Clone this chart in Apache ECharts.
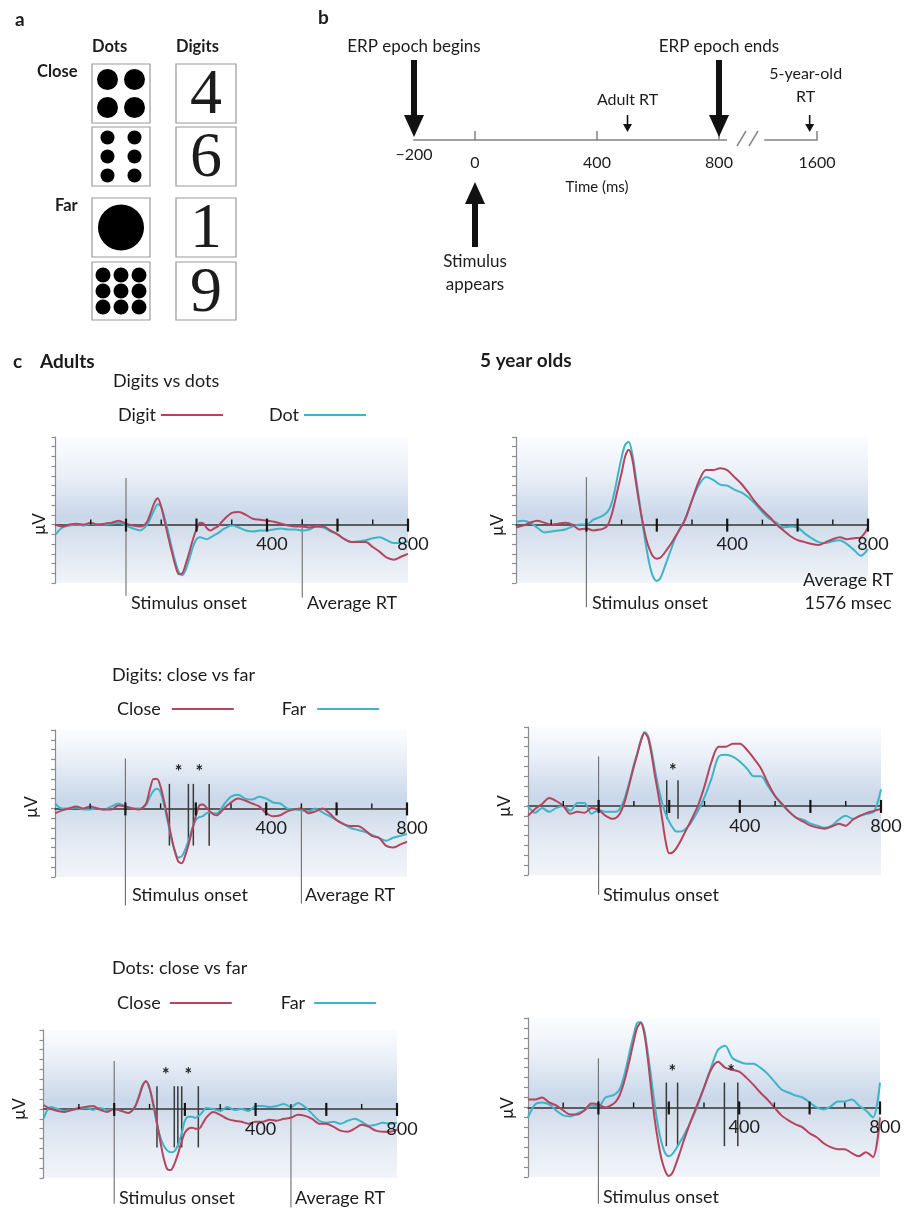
<!DOCTYPE html>
<html><head><meta charset="utf-8">
<script src="https://cdn.jsdelivr.net/npm/echarts@6/dist/echarts.min.js"></script>
<style>html,body{margin:0;padding:0;background:#fff}#c{width:914px;height:1209px}</style>
</head><body><div id="c"></div><script>
// ---------------- DATA ----------------
const times = [-200,-180,-160,-140,-120,-100,-80,-60,-40,-20,0,20,40,
  50,60,70,80,90,100,110,120,130,140,150,160,170,180,190,200,210,220,230,240,250,
  260,280,300,320,340,360,380,400,420,440,460,480,500,520,540,560,580,600,620,640,660,680,700,720,740,760,780,800];

// Adults, digits vs dots
const adultDigit = [0,-0.2,0.0,0.1,0.0,0.2,0.0,0.1,0.2,0.4,0.1,-0.1,-0.2,
  -0.1,0.3,1.2,2.2,2.7,1.8,0.3,-1.3,-2.8,-4.2,-5.1,-5.0,-4.0,-2.8,-1.5,-0.5,0.2,0.1,-0.4,-0.6,-0.4,
  -0.2,0.6,1.2,1.3,1.0,0.6,0.5,0.4,0.3,0.1,-0.1,-0.2,-0.2,-0.3,-0.2,-0.2,-0.6,-1.0,-1.5,-1.8,-1.8,-1.8,-2.3,-2.8,-3.4,-3.6,-3.3,-3.0];
const adultDot = [-1.0,-0.3,-0.1,0.0,-0.1,0.1,0.0,0.0,0.1,0.2,-0.1,-0.4,-0.6,
  -0.4,0.0,0.7,1.5,2.1,1.8,0.6,-0.8,-2.4,-3.8,-4.9,-5.2,-4.6,-3.5,-2.3,-1.5,-1.3,-1.4,-1.5,-1.3,-1.1,
  -0.9,-0.4,-0.1,-0.3,-0.6,-0.7,-0.6,-0.6,-0.5,-0.4,-0.5,-0.5,-0.6,-0.5,-0.2,-0.3,-0.7,-1.0,-1.5,-1.8,-1.7,-1.6,-1.4,-1.3,-1.6,-1.9,-1.9,-1.7];
// 5 year olds, digits vs dots
const childDigit = [-0.3,-0.1,0.2,0.4,0.2,0.0,0.1,0.2,0.0,-0.5,-0.4,-0.6,-0.5,
  -0.4,-0.1,0.8,2.2,3.8,5.3,7.0,7.7,6.8,4.5,2.2,0.2,-1.5,-2.6,-3.3,-3.5,-3.4,-3.0,-2.5,-2.0,-1.4,
  -0.8,0.5,2.5,4.5,5.6,5.6,5.8,5.6,4.9,4.2,3.3,2.3,1.5,0.8,0.0,-0.6,-1.2,-1.6,-1.8,-2.0,-2.1,-1.8,-1.5,-1.3,-1.5,-1.4,-1.3,-0.3];
const childDot = [0.3,0.4,0.2,-0.3,-0.8,-0.7,-0.6,-0.5,-0.2,0.0,0.0,0.5,0.8,
  1.0,1.3,2.0,3.4,5.2,6.9,8.2,8.5,7.3,5.0,2.5,0.0,-2.3,-4.2,-5.4,-5.8,-5.5,-4.6,-3.6,-2.6,-1.6,
  -0.8,0.5,2.5,4.1,4.9,4.6,4.1,4.0,3.6,3.3,2.8,2.1,1.3,0.6,0.2,-0.3,-0.2,-0.3,-0.9,-1.4,-1.8,-1.9,-1.7,-1.6,-2.0,-2.6,-3.2,-2.5];
// Adults, digits close vs far
const adultDigitClose = [-0.5,-0.2,0.0,0.2,0.0,0.2,0.0,-0.1,-0.1,0.3,0.2,0.0,-0.1,
  0.1,0.6,2.0,3.0,3.0,2.2,0.7,-1.0,-2.8,-4.3,-5.4,-5.6,-4.8,-3.6,-2.2,-0.8,0.3,0.4,0.1,-0.3,-0.6,
  -0.7,0.0,0.6,1.0,0.8,0.5,0.2,-0.5,-0.8,-0.7,-0.3,-0.1,0.0,-0.5,-0.3,0.0,-0.5,-1.2,-1.6,-1.8,-1.8,-2.2,-2.8,-3.0,-3.8,-4.0,-3.7,-3.4];
const adultDigitFar = [0.5,0.0,0.0,0.1,-0.1,-0.1,0.0,-0.1,0.2,0.5,0.2,0.0,0.0,
  0.1,0.4,1.2,1.8,2.0,1.6,0.3,-1.3,-3.0,-4.3,-5.0,-4.9,-4.2,-3.2,-2.0,-1.2,-0.9,-0.8,-0.5,-0.4,-0.5,
  -0.5,0.4,1.2,1.4,1.0,0.9,1.2,1.0,0.6,0.5,0.0,-0.1,-0.2,-0.3,0.0,-0.4,-0.8,-1.2,-1.6,-2.0,-2.2,-2.4,-2.7,-3.0,-3.3,-3.0,-2.8,-2.6];
// 5 year olds, digits close vs far
const childDigitClose = [-1.0,-0.3,0.2,0.8,0.5,0.0,-0.8,-0.6,-0.7,-0.2,-0.4,-1.0,-1.3,
  -1.2,-0.8,0.0,1.2,2.6,4.0,5.3,6.6,7.4,6.9,5.2,3.0,1.0,-1.3,-3.6,-4.8,-4.7,-4.3,-3.7,-3.0,-2.3,
  -1.6,-0.1,2.0,4.5,6.0,6.0,6.3,6.3,5.7,4.8,3.8,2.3,1.0,0.2,-0.6,-1.2,-1.6,-2.0,-2.2,-2.3,-2.1,-1.8,-2.0,-1.4,-1.0,-0.7,-0.5,-0.3];
const childDigitFar = [0.0,-0.7,-0.2,-0.6,-0.2,0.0,-0.5,0.3,0.3,-0.8,-0.4,-0.6,-0.6,
  -0.6,-0.3,0.4,1.5,2.8,4.2,5.4,6.7,7.5,7.1,5.6,3.6,1.8,0.3,-0.8,-1.6,-2.2,-2.6,-2.6,-2.5,-2.2,
  -1.8,-0.6,0.9,2.8,5.0,5.2,5.0,4.5,3.8,3.0,3.0,2.0,1.0,0.1,-0.6,-1.2,-1.4,-1.8,-2.0,-2.2,-2.0,-1.4,-1.0,-1.3,-1.0,-0.8,-0.6,1.7];
// Adults, dots close vs far
const adultDotsClose = [0.4,0.0,-0.2,-0.3,-0.1,0.1,0.2,0.3,-0.1,-0.3,0.0,-0.2,-0.4,
  -0.2,0.3,1.2,2.3,2.8,2.1,0.6,-1.2,-3.2,-5.0,-6.1,-6.2,-5.6,-4.6,-3.4,-2.4,-2.0,-1.9,-2.0,-2.0,-1.5,
  -0.9,-0.3,-0.6,-1.0,-1.2,-1.3,-1.5,-1.3,-1.3,-1.1,-1.2,-1.0,-0.9,-0.6,-0.7,-1.0,-1.5,-1.5,-1.8,-2.2,-2.3,-2.0,-1.6,-1.8,-2.2,-2.3,-2.3,-2.1];
const adultDotsFar = [-1.0,0.2,0.0,-0.2,-0.1,0.0,0.1,-0.1,0.1,-0.1,0.0,-0.2,-0.4,
  -0.2,0.3,1.3,2.4,2.8,2.1,0.5,-1.4,-2.8,-3.7,-4.2,-4.4,-4.3,-3.7,-2.6,-1.2,-0.8,-0.8,-0.9,-0.7,-0.3,
  0.1,0.0,-0.2,0.2,-0.1,0.0,-0.2,0.3,0.3,0.2,0.3,0.5,0.2,0.6,0.2,-0.5,-1.2,-1.4,-1.3,-1.5,-1.2,-1.0,-1.3,-1.7,-1.6,-1.4,-1.5,-1.4];
// 5 year olds, dots close vs far
const childDotsClose = [0.8,0.8,1.0,0.5,0.2,-0.3,-0.7,-0.7,-0.3,0.4,0.3,0.0,0.3,
  0.6,1.2,2.2,3.5,5.0,6.6,8.0,8.5,7.5,5.0,1.8,-1.2,-3.5,-5.3,-6.4,-6.9,-6.6,-5.7,-4.7,-3.6,-2.6,
  -1.6,0.2,2.0,3.8,4.6,4.0,3.8,3.6,3.0,2.3,1.5,0.8,0.0,-0.8,-1.3,-1.7,-2.0,-2.6,-3.0,-3.6,-4.0,-4.2,-4.2,-4.6,-4.9,-4.5,-5.0,-1.0];
const childDotsFar = [-1.0,0.3,0.5,0.3,-0.3,-0.8,-0.9,-0.6,-0.3,0.2,0.1,1.0,1.2,
  1.4,1.8,2.8,4.2,5.8,7.3,8.5,8.6,7.8,5.6,3.0,0.3,-2.0,-3.6,-4.6,-4.9,-4.7,-4.2,-3.6,-3.0,-2.3,
  -1.6,0.0,2.0,4.0,5.8,6.2,5.0,4.6,4.4,4.4,4.0,3.4,2.6,1.8,1.5,1.2,1.0,0.5,0.0,-0.2,0.1,0.6,0.6,0.8,0.2,-0.3,-1.0,2.5];

// ticks / labels
const xTickValues = [-100,0,100,200,300,400,500,600,700,800];
const xTickMajor = [0,200,400,600,800];
const xLabelValues = [400,800];
const timelineLabels = [-200,0,400,800];
const timelineTicks = [0,400,800];
const timelineBreakLabels = [1600];
const adultRT = 500, childRT = 1576;
const timelineEvents = [-200, 0, 800, adultRT];
const timelineEventNames = ['ERP epoch begins','Stimulus\nappears','ERP epoch ends','Adult RT'];

// panel a
const dotCounts = [4, 6, 1, 9];
const digitGlyphs = ['4','6','1','9'];

// significance windows (ms) and asterisks (ms)
const sigA2 = [125,179,193,238], starA2 = [151,210];
const sigC2 = [193,225], starC2 = [210];
const sigA3 = [121,170,180,191,238], starA3 = [146,210];
const sigC3a = [193,225], sigC3b = [358,396], starC3 = [210,377];

// ---------------- STYLE ----------------
const FONT = 'Lato, "Open Sans", "DejaVu Sans", sans-serif';
const RED = '#b5445f', CYAN = '#3db5c7', INK = '#1c1c1c';
const FS = 18;

function bgGrad(z){
  return new echarts.graphic.LinearGradient(0,0,0,1,[
    {offset:0, color:'#fbfcfe'},
    {offset:Math.max(0.01,z-0.34), color:'#eaf0f7'},
    {offset:z-0.05, color:'#c9d7e9'},
    {offset:z+0.05, color:'#d5dfec'},
    {offset:Math.min(0.99,z+0.28), color:'#e7edf5'},
    {offset:1, color:'#f1f4f9'}]);
}

const panels = [
 {grid:{left:55.5, top:437, width:352.5, height:146}, yMin:-6, yMax:9,
  a:adultDigit, b:adultDot, names:['Digit','Dot'], onset:[4.8,-7.3], rt:[0.6,-7.5], sig:[], sigExt:[0,0], stars:[], starY:0},
 {grid:{left:516, top:437, width:352, height:146}, yMin:-6, yMax:9,
  a:childDigit, b:childDot, names:['Digit','Dot'], onset:[4.9,-8.5], rt:null, sig:[], sigExt:[0,0], stars:[], starY:0},
 {grid:{left:55, top:730, width:352, height:147}, yMin:-7, yMax:8,
  a:adultDigitClose, b:adultDigitFar, names:['Close','Far'], onset:[5.1,-9.9], rt:[0.4,-9.7], sig:sigA2, sigExt:[2.5,-3.8], stars:starA2, starY:3.7},
 {grid:{left:528, top:727, width:353, height:148}, yMin:-7, yMax:8,
  a:childDigitClose, b:childDigitFar, names:['Close','Far'], onset:[5.0,-9.0], rt:null, sig:sigC2, sigExt:[2.6,-1.3], stars:starC2, starY:3.5},
 {grid:{left:43.5, top:1030, width:353.5, height:148}, yMin:-7, yMax:8,
  a:adultDotsClose, b:adultDotsFar, names:['Close','Far'], onset:[4.85,-9.6], rt:[0,-10], sig:sigA3, sigExt:[2.3,-3.9], stars:starA3, starY:3.4},
 {grid:{left:528, top:1018, width:352, height:159}, yMin:-7, yMax:9,
  a:childDotsClose, b:childDotsFar, names:['Close','Far'], onset:[4.95,-9.7], rt:null, sig:sigC3a.concat(sigC3b), sigExt:[2.5,-3.9], stars:starC3, starY:3.5}
];

const grids = [], xAxes = [], yAxes = [], series = [];
const minusFmt = v => v < 0 ? '\u2212' + (-v) : String(v);

// axis labels drawn on the zero line through the axis scale
function labelSeries(gi, values, dx, dy, fs, firstDy){
  return {type:'custom', xAxisIndex:gi, yAxisIndex:gi, silent:true, clip:false, z:9,
    data: values.map(v => [v]),
    renderItem:(params, api)=>{
      const v = api.value(0);
      const p = api.coord([v, 0]);
      const oy = (firstDy != null && params.dataIndex === 0) ? firstDy : dy;
      return {type:'text', x:p[0]+dx, y:p[1]+oy, style:{text:minusFmt(v), fontSize:fs, fontFamily:FONT, fill:INK,
        align:'center', verticalAlign:'middle'}};
    }};
}

// ---- panel b timeline grids ----
grids.push({left:414, top:40, width:305, height:250, show:false, outerBoundsMode:'none'});
grids.push({left:765, top:40, width:52, height:250, show:false, outerBoundsMode:'none'});
[[ -200, 800, timelineTicks, timelineLabels], [1430, 1600, timelineBreakLabels, timelineBreakLabels]].forEach((c, i) => {
  xAxes.push({type:'value', gridIndex:i, min:c[0], max:c[1],
    axisLine:{show:true, onZero:true, lineStyle:{color:'#a0a0a0', width:2}},
    axisTick:{show:true, inside:true, length:9, customValues:c[2], lineStyle:{color:'#8a8a8a', width:1.6}},
    axisLabel:{show:false},
    splitLine:{show:false}});
  yAxes.push({type:'value', gridIndex:i, min:-15, max:10, show:false, splitLine:{show:false}});
  series.push(labelSeries(i, c[3], 0, 23, 16, i === 0 ? 15 : null));
});

function arrowSeries(gi, evTimes, names, kinds){
  return {type:'custom', xAxisIndex:gi, yAxisIndex:gi, silent:true, clip:false, z:5,
    data: evTimes.map((t,i)=>[t, i]),
    renderItem:(params, api)=>{
      const i = api.value(1);
      const p = api.coord([api.value(0), 0]);
      const k = kinds[i];
      const L = {
        bigDown:{tail:-80, tip:-3, shaft:6, head:22, half:10, tx:0, ty:-93, fs:17},
        bigUp:{tail:107, tip:42, shaft:6, head:22, half:10, tx:0, ty:133, fs:17},
        smallDown:{tail:-25, tip:-8, shaft:1.6, head:8, half:4.5, tx:0, ty:-40, fs:16},
        smallDown2:{tail:-25, tip:-8, shaft:1.6, head:8, half:4.5, tx:-4, ty:-55, fs:16}
      }[k];
      const dir = Math.sign(L.tip - L.tail);
      const yTail = p[1] + L.tail, yTip = p[1] + L.tip, yBase = yTip - dir*L.head;
      return {type:'group', children:[
        {type:'rect', shape:{x:p[0]-L.shaft/2, y:Math.min(yTail,yBase), width:L.shaft, height:Math.abs(yBase-yTail)}, style:{fill:'#111'}},
        {type:'polygon', shape:{points:[[p[0]-L.half, yBase],[p[0]+L.half, yBase],[p[0], yTip]]}, style:{fill:'#111'}},
        {type:'text', x:p[0]+L.tx, y:p[1]+L.ty, style:{text:names[i], fontSize:L.fs, fontFamily:FONT, fill:INK,
          align:'center', verticalAlign:'middle', lineHeight:23}}
      ]};
    }};
}
series.push(arrowSeries(0, timelineEvents, timelineEventNames, ['bigDown','bigUp','bigDown','smallDown']));
series.push(arrowSeries(1, [childRT], ['5-year-old\nRT'], ['smallDown2']));

// ---- panel c ERP grids ----
const legends = [];
panels.forEach((P, k) => {
  const gi = k + 2;
  const z = P.yMax / (P.yMax - P.yMin);
  grids.push(Object.assign({show:true, borderWidth:0, backgroundColor:bgGrad(z), outerBoundsMode:'none', containLabel:false}, P.grid));
  xAxes.push({type:'value', gridIndex:gi, min:-200, max:800,
    axisLine:{show:true, onZero:true, lineStyle:{color:'#333', width:1.5}},
    axisTick:{show:false},
    axisLabel:{show:false},
    splitLine:{show:false}});
  yAxes.push({type:'value', gridIndex:gi, min:P.yMin, max:P.yMax, interval:1,
    axisLine:{show:true, onZero:false, lineStyle:{color:'#8c8c8c', width:1.2}},
    axisTick:{show:true, length:4, lineStyle:{color:'#8c8c8c', width:1.2}},
    axisLabel:{show:false}, splitLine:{show:false}});
  const mk = (arr, name, color) => ({type:'line', name, xAxisIndex:gi, yAxisIndex:gi, color,
    data: times.map((t,i)=>[t, arr[i]]), showSymbol:false, smooth:0.3, z:6,
    lineStyle:{width:2, color}, emphasis:{disabled:true}, silent:true});
  series.push(mk(P.b, P.names[1], CYAN));
  series.push(mk(P.a, P.names[0], RED));
  series.push(labelSeries(gi, xLabelValues, 5, 20, FS));
  // ticks on the zero line
  series.push({type:'custom', xAxisIndex:gi, yAxisIndex:gi, silent:true, clip:false, z:7,
    data: xTickValues.map(v => [v, xTickMajor.includes(v) ? 1 : 0]),
    renderItem:(params, api)=>{
      const p = api.coord([api.value(0), 0]);
      const major = api.value(1) === 1;
      return {type:'line', shape:{x1:p[0], y1:p[1]-(major?6:5), x2:p[0], y2:p[1]+(major?7:0)},
        style:{stroke:'#151515', lineWidth: major?2.2:1.4}};
    }});
  // vertical reference lines
  const vl = [];
  vl.push([0, P.onset[0], P.onset[1], 0]);
  if (P.rt) vl.push([adultRT, P.rt[0], P.rt[1], 0]);
  P.sig.forEach(t => vl.push([t, P.sigExt[0], P.sigExt[1], 1]));
  series.push({type:'custom', xAxisIndex:gi, yAxisIndex:gi, silent:true, clip:false, z:4,
    data: vl,
    renderItem:(params, api)=>{
      const a = api.coord([api.value(0), api.value(1)]);
      const b = api.coord([api.value(0), api.value(2)]);
      const sig = api.value(3) === 1;
      return {type:'line', shape:{x1:a[0], y1:a[1], x2:b[0], y2:b[1]},
        style:{stroke: sig ? '#3a3a3a' : '#6e6e6e', lineWidth: sig ? 1.5 : 1.1}};
    }});
  if (P.stars.length) series.push({type:'custom', xAxisIndex:gi, yAxisIndex:gi, silent:true, clip:false, z:8,
    data: P.stars.map(t => [t, P.starY]),
    renderItem:(params, api)=>{
      const p = api.coord([api.value(0), api.value(1)]);
      return {type:'text', x:p[0], y:p[1], style:{text:'*', fontSize:18, fontWeight:'bold', fontFamily:FONT, fill:'#222', align:'center', verticalAlign:'middle'}};
    }});
});

// legends (adult panels only)
[[113,401,46,5],[112,695,48,11],[112,989,49,9]].forEach((L, i) => {
  legends.push({left:L[0], top:L[1], orient:'horizontal', align:'right', itemWidth:62, itemHeight:2, itemGap:L[2],
    icon:'rect', selectedMode:false, data: panels[i*2].names,
    textStyle:{fontSize:FS, fontFamily:FONT, color:INK, padding:[0, L[3]-5, 0, 0]}});
});

// ---------------- GRAPHIC (panel a + texts) ----------------
const G = [];
const txt = (x, y, s, o={}) => G.push({type:'text', x, y, silent:true, style:Object.assign({text:s, fontSize:FS, fontFamily:FONT, fill:INK,
  align:'left', verticalAlign:'middle', textAlign:'left', textVerticalAlign:'middle'}, o)});

// panel a
txt(15, 20, 'a', {fontWeight:'bold', fontSize:19});
txt(92, 47, 'Dots', {fontWeight:'bold', fontSize:16.5});
txt(176, 47, 'Digits', {fontWeight:'bold', fontSize:16.5});
txt(37, 72, 'Close', {fontWeight:'bold', fontSize:16.5});
txt(55, 206, 'Far', {fontWeight:'bold', fontSize:16.5});
const boxRows = [[64,59],[127,59],[198,59],[262,58]];
const dotLayouts = {4:{cols:2, rows:2, dx:27, dy:28, r:10.5}, 6:{cols:2, rows:3, dx:27, dy:19, r:7},
                    1:{cols:1, rows:1, dx:0, dy:0, r:23}, 9:{cols:3, rows:3, dx:18, dy:16, r:7.5}};
dotCounts.forEach((n, i) => {
  const [y, h] = boxRows[i];
  G.push({type:'rect', silent:true, shape:{x:92, y, width:58, height:h}, style:{fill:'#fff', stroke:'#9a9a9a', lineWidth:1.2}});
  G.push({type:'rect', silent:true, shape:{x:176, y, width:60, height:h}, style:{fill:'#fff', stroke:'#9a9a9a', lineWidth:1.2}});
  const L = dotLayouts[n], cx = 121, cy = y + h/2;
  for (let r = 0; r < L.rows; r++) for (let c = 0; c < L.cols; c++) {
    G.push({type:'circle', silent:true, shape:{cx: cx + (c - (L.cols-1)/2)*L.dx, cy: cy + (r - (L.rows-1)/2)*L.dy, r:L.r}, style:{fill:'#000'}});
  }
  txt(206, cy + 3, digitGlyphs[i], {fontFamily:'"Liberation Serif", "DejaVu Serif", serif', fontSize:64, align:'center', textAlign:'center'});
});

// panel b
txt(318, 18, 'b', {fontWeight:'bold', fontSize:19});
txt(597, 187, 'Time (ms)', {fontSize:15, align:'center', textAlign:'center'});
G.push({type:'line', silent:true, shape:{x1:737, y1:146, x2:746, y2:131}, style:{stroke:'#8a8a8a', lineWidth:1.5}});
G.push({type:'line', silent:true, shape:{x1:749, y1:146, x2:758, y2:131}, style:{stroke:'#8a8a8a', lineWidth:1.5}});
G.push({type:'line', silent:true, shape:{x1:719, y1:140, x2:727, y2:140}, style:{stroke:'#a0a0a0', lineWidth:2}});

// panel c texts
txt(13, 362, 'c', {fontWeight:'bold', fontSize:19});
txt(40, 362, 'Adults', {fontWeight:'bold', fontSize:19});
txt(480, 361, '5 year olds', {fontWeight:'bold', fontSize:19});
txt(113, 381, 'Digits vs dots');
txt(112, 675, 'Digits: close vs far');
txt(112, 968, 'Dots: close vs far');
// under-plot labels
txt(131, 603, 'Stimulus onset'); txt(307, 603, 'Average RT');
txt(592, 603, 'Stimulus onset');
txt(848, 580, 'Average RT', {align:'center', textAlign:'center'});
txt(848, 603, '1576 msec', {align:'center', textAlign:'center'});
txt(132, 895, 'Stimulus onset'); txt(305, 895, 'Average RT');
txt(603, 895, 'Stimulus onset');
txt(119, 1198, 'Stimulus onset'); txt(295, 1198, 'Average RT');
txt(603, 1197, 'Stimulus onset');
// μV labels
[[40,524],[498,525],[32,807],[505,806],[20,1109],[508,1108]].forEach(p => {
  G.push({type:'text', x:p[0], y:p[1], rotation:Math.PI/2, silent:true,
    style:{text:'\u03bcV', fontSize:17, fontFamily:FONT, fill:INK, align:'center', verticalAlign:'middle', textAlign:'center', textVerticalAlign:'middle'}});
});

const chart = echarts.init(document.getElementById('c'), null, {renderer:'canvas', width:914, height:1209});
chart.setOption({
  animation:false,
  backgroundColor:'#ffffff',
  grid:grids, xAxis:xAxes, yAxis:yAxes, series, legend:legends,
  graphic:{elements:G}
});
</script></body></html>
